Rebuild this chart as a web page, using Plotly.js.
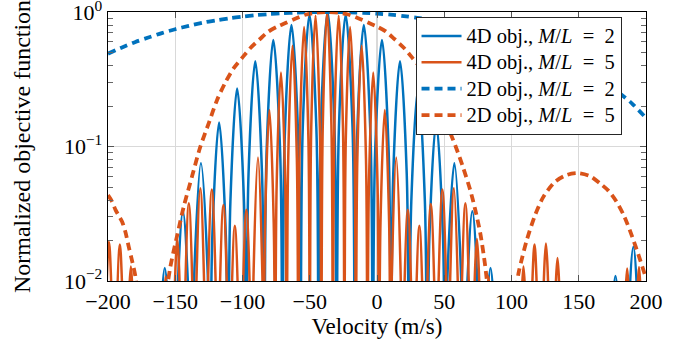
<!DOCTYPE html>
<html>
<head>
<meta charset="utf-8">
<script src="https://cdn.plot.ly/plotly-3.0.1.min.js"></script>
<style>
  html, body { margin: 0; padding: 0; background: #ffffff; }
  #chart { width: 687px; height: 353px; }
  text.legendtext { font-size: 20.5px !important; }
</style>
</head>
<body>
<div id="chart"></div>
<script>
// ---- Data (velocity in m/s, normalized objective) ----
// 4D objective, M/L = 2 : lobe nulls, lobe flanks and peaks
const blue4dX = [
  -164.5,-162.8,-157.8,-152.7, -151.0,-149.3,-144.3,-139.3, -137.6,-135.9,-130.9,-125.8,
  -124.1,-122.4,-117.4,-112.4, -110.7,-109.0,-104.0,-98.9, -97.2,-95.5,-90.5,-85.5,
  -83.8,-82.1,-77.1,-72.0, -70.3,-68.6,-63.6,-58.6, -56.9,-55.2,-50.2,-45.1,
  -43.4,-41.7,-36.7,-31.7, -30.0,-28.3,-23.3,-18.2, -16.5,-14.8,-9.8,-4.8,
  -3.1,-1.4,3.7,8.7, 10.4,12.1,17.1,22.1, 23.8,25.5,30.6,35.6,
  37.3,39.0,44.0,49.0, 50.7,52.4,57.5,62.5, 64.2,65.9,70.9,75.9,
  77.6,79.3,84.4,89.4, 91.1,
  170.6,172.3,177.3,182.3, 184.0,185.6,190.6,195.6, 197.3
];
const blue4dY = [
  0.001,0.0018,0.0125,0.0018, 0.001,0.0048,0.033,0.0048, 0.001,0.011,0.075,0.011,
  0.001,0.022,0.151,0.022, 0.001,0.039,0.27,0.039, 0.001,0.063,0.43,0.063,
  0.001,0.0905,0.62,0.0905, 0.001,0.117,0.80,0.117, 0.001,0.139,0.955,0.139,
  0.001,0.146,1.0,0.146, 0.001,0.139,0.955,0.139, 0.001,0.117,0.80,0.117,
  0.001,0.0905,0.62,0.0905, 0.001,0.063,0.43,0.063, 0.001,0.039,0.27,0.039,
  0.001,0.022,0.151,0.022, 0.001,0.011,0.075,0.011, 0.001,0.0048,0.033,0.0048,
  0.001,0.0018,0.0125,0.0018, 0.001,
  0.001,0.0016,0.0109,0.0016, 0.001,0.0026,0.018,0.0026, 0.001
];

// 4D objective, M/L = 5
const orange4dX = [
  -203.5,-202.5,-199.3,-196.1, -195.2,-194.4,-191.2,-188.0, -187.1,-186.2,-183.0,-179.8, -178.8,
  -161.4,-160.3,-157.1,-153.9, -152.8,-151.7,-148.5,-145.3, -144.2,-143.1,-139.9,-136.7,
  -135.7,-134.6,-131.4,-128.2, -127.1,-126.0,-122.8,-119.6, -118.5,-117.4,-114.2,-111.0,
  -109.9,-108.9,-105.7,-102.5, -101.4,-100.3,-97.1,-93.9, -92.8,-91.7,-88.5,-85.3,
  -84.2,-83.2,-80.0,-76.8, -75.7,-74.6,-71.4,-68.2, -67.1,-66.0,-62.8,-59.6,
  -58.5,-57.4,-54.2,-51.0, -50.0,-48.9,-45.7,-42.5, -41.4,-40.3,-37.1,-33.9,
  -32.8,-31.7,-28.5,-25.3, -24.2,-23.2,-20.0,-16.8, -15.7,-14.6,-11.4,-8.2,
  -7.1,-6.0,-2.8,0.4, 1.5,2.6,5.8,9.0, 10.0,11.1,14.3,17.5,
  18.6,19.7,22.9,26.1, 27.2,28.3,31.5,34.7, 35.7,36.8,40.0,43.2,
  44.3,45.4,48.6,51.8, 52.9,54.0,57.2,60.4, 61.4,62.5,65.7,68.9,
  70.0,71.1,74.3,77.5, 78.6,79.7,82.9,86.1, 87.2,
  104.7,105.8,108.9,112.0, 113.0,113.9,117.1,120.3, 121.3,122.4,125.6,128.8, 129.9,131.0,134.2,137.4, 138.5,
  181.8,182.8,186.0,189.2, 190.3,191.6,194.8,198.0, 199.1
];
const orange4dY = [
  0.001,0.0028,0.0195,0.0028, 0.001,0.0027,0.0187,0.0027, 0.001,0.0019,0.0128,0.0019, 0.001,
  0.001,0.0016,0.0108,0.0016, 0.001,0.003,0.0205,0.003, 0.001,0.0055,0.0379,0.0055,
  0.001,0.0072,0.049,0.0072, 0.001,0.007,0.048,0.007, 0.001,0.0054,0.0368,0.0054,
  0.001,0.0038,0.0257,0.0038, 0.001,0.0049,0.0338,0.0049, 0.001,0.0121,0.083,0.0121,
  0.001,0.0273,0.187,0.0273, 0.001,0.0518,0.355,0.0518, 0.001,0.0819,0.561,0.0819,
  0.001,0.113,0.773,0.113, 0.001,0.137,0.94,0.137, 0.001,0.146,1.0,0.146,
  0.001,0.137,0.94,0.137, 0.001,0.113,0.773,0.113, 0.001,0.0819,0.561,0.0819,
  0.001,0.0518,0.355,0.0518, 0.001,0.0273,0.187,0.0273, 0.001,0.0121,0.083,0.0121,
  0.001,0.0049,0.0338,0.0049, 0.001,0.0038,0.0257,0.0038, 0.001,0.0055,0.0374,0.0055,
  0.001,0.007,0.048,0.007, 0.001,0.0072,0.049,0.0072, 0.001,0.0055,0.0379,0.0055,
  0.001,0.003,0.0205,0.003, 0.001,0.0016,0.0108,0.0016, 0.001,
  0.001,0.0019,0.0128,0.0019, 0.001,0.0027,0.0187,0.0027, 0.001,0.0028,0.019,0.0028, 0.001,0.0022,0.0148,0.0022, 0.001,
  0.001,0.0018,0.0124,0.0018, 0.001,0.0019,0.0127,0.0019, 0.001
];

// 2D objective, M/L = 2
const blue2dX = [-200,-190,-180,-170,-160,-150,-140,-130,-120,-110,-100,-90,-80,-70,-60,-50,-40,-30,-20,-10,
                 0,10,20,30,40,50,60,70,80,90,100,110,120,130,140,150,160,170,180,190,200];
const blue2dY = [0.49,0.543,0.597,0.646,0.697,0.745,0.789,0.832,0.867,0.898,0.925,0.948,0.966,0.98,0.991,0.998,1.0,0.999,0.995,0.986,
                 0.973,0.957,0.933,0.906,0.875,0.839,0.80,0.759,0.714,0.668,0.622,0.574,0.526,0.479,0.431,0.385,0.340,0.295,0.251,0.207,0.163];

// 2D objective, M/L = 5
const orange2dX = [-200,-197,-194.4,-191.5,-189.5,-187,-184.6,-182,-179.6,-177,-172,-167,
                   -162,-158,-153.6,-148.5,-143.7,-137.5,-131.3,-125,-118.9,-112.7,-106.5,-100,-94.1,-87,-80.5,-74,-68.1,-60,-53.3,-45,-37,
                   -29,-20.7,-14,-5.9,0,6.5,13,20.1,26,32.5,39,44.9,51.5,58.5,64,69.3,73,76.8,80.5,84,88,93,98,102,
                   105.2,108,111.4,117.6,123.8,132.5,141.2,149.3,158,166,172,178,184,190,195,200];
const orange2dY = [0.0435,0.039,0.0338,0.030,0.0276,0.023,0.018,0.014,0.0108,0.007,0.003,0.001,
                   0.003,0.0065,0.0128,0.022,0.0357,0.06,0.1,0.15,0.222,0.30,0.383,0.46,0.54,0.63,0.718,0.78,0.828,0.90,0.955,0.99,1.0,
                   0.99,0.955,0.90,0.828,0.78,0.718,0.63,0.54,0.46,0.383,0.30,0.222,0.15,0.1,0.07,0.0475,0.034,0.0226,0.0128,0.006,0.0025,0.001,0.003,0.0065,
                   0.0114,0.015,0.0202,0.031,0.0424,0.0548,0.0615,0.0634,0.0605,0.053,0.047,0.039,0.030,0.021,0.015,0.0105];

const seriesNames = [
  "4D obj., <i>M</i>/<i>L</i>\u2002=\u20022",
  "4D obj., <i>M</i>/<i>L</i>\u2002=\u20025",
  "2D obj., <i>M</i>/<i>L</i>\u2002=\u20022",
  "2D obj., <i>M</i>/<i>L</i>\u2002=\u20025"
];
const xTickVals = [-200,-150,-100,-50,0,50,100,150,200];
const yTickVals = [0.01,0.1,1];
const yTickText = ["10<sup>\u22122</sup>","10<sup>\u22121</sup>","10<sup>0</sup>"];
const yMinorVals = [0.02,0.03,0.04,0.05,0.06,0.07,0.08,0.09,0.2,0.3,0.4,0.5,0.6,0.7,0.8,0.9];

const BLUE = "#0072BD", ORANGE = "#D95319";
const FONT = "Liberation Serif, Times New Roman, serif";

const traces = [
  {x: blue4dX, y: blue4dY, name: seriesNames[0], mode: "lines",
   line: {color: BLUE, width: 2.5, shape: "spline", smoothing: 1}},
  {x: orange4dX, y: orange4dY, name: seriesNames[1], mode: "lines",
   line: {color: ORANGE, width: 2.5, shape: "spline", smoothing: 1}},
  {x: blue2dX, y: blue2dY, name: seriesNames[2], mode: "lines",
   line: {color: BLUE, width: 3.8, dash: "8px,5px", shape: "spline", smoothing: 0.8}},
  {x: orange2dX, y: orange2dY, name: seriesNames[3], mode: "lines",
   line: {color: ORANGE, width: 3.8, dash: "8px,5px", shape: "spline", smoothing: 0.8}}
];

const layout = {
  width: 687, height: 353,
  margin: {l: 108, r: 41, t: 12, b: 72, pad: 0},
  paper_bgcolor: "#ffffff", plot_bgcolor: "#ffffff",
  font: {family: FONT, size: 22, color: "#000000"},
  showlegend: true,
  legend: {
    x: 0.5716, y: 0.9825, xanchor: "left", yanchor: "top",
    bgcolor: "#ffffff", bordercolor: "#262626", borderwidth: 1,
    font: {family: FONT, size: 18, color: "#000000"},
    tracegroupgap: 0, itemwidth: 40
  },
  xaxis: {
    range: [-200, 200], tickmode: "array", tickvals: xTickVals,
    ticks: "inside", ticklen: 6, tickwidth: 1, tickcolor: "#555555",
    showline: true, linecolor: "#000000", linewidth: 1.3, mirror: "ticks",
    showgrid: true, gridcolor: "#d9d9d9", gridwidth: 1.2, zeroline: false,
    tickfont: {family: FONT, size: 22, color: "#000000"},
    title: {text: "Velocity (m/s)", font: {family: FONT, size: 23, color: "#000000"}, standoff: 5}
  },
  yaxis: {
    type: "log", range: [-2, 0.0003], tickmode: "array", tickvals: yTickVals, ticktext: yTickText,
    ticklabeloverflow: "allow",
    ticks: "inside", ticklen: 6, tickwidth: 1, tickcolor: "#555555",
    minor: {tickmode: "array", tickvals: yMinorVals, ticks: "inside", ticklen: 5, tickwidth: 1, tickcolor: "#666666", showgrid: false},
    showline: true, linecolor: "#000000", linewidth: 1.3, mirror: "ticks",
    showgrid: true, gridcolor: "#d9d9d9", gridwidth: 1.2, zeroline: false,
    tickfont: {family: FONT, size: 22, color: "#000000"},
    title: {text: "Normalized objective function", font: {family: FONT, size: 24, color: "#000000"}, standoff: 26}
  }
};

Plotly.newPlot("chart", traces, layout, {displayModeBar: false, staticPlot: true});
</script>
</body>
</html>
